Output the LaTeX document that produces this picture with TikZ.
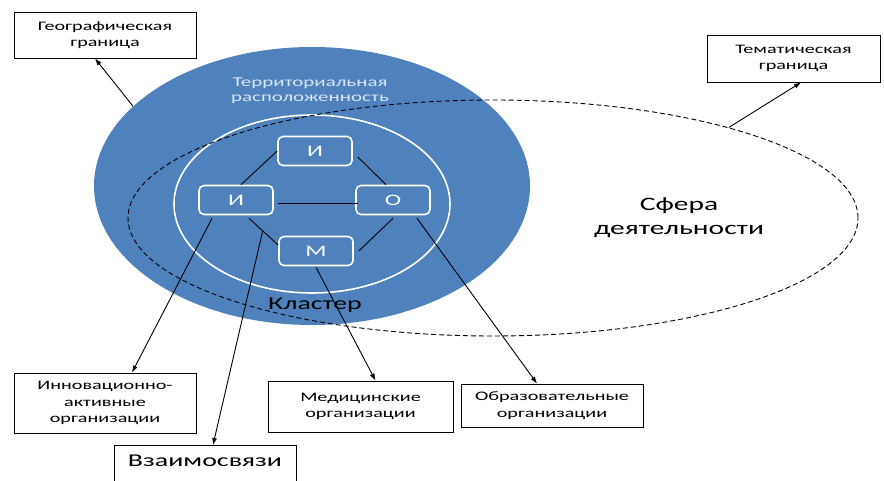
\documentclass[tikz,border=0pt]{standalone}
\usepackage{fontspec}
\setmainfont{Carlito}[FakeStretch=1.55]
\usetikzlibrary{arrows.meta,calc,shapes.geometric}
\definecolor{clblue}{HTML}{4F81BD}
\definecolor{terrtext}{HTML}{DCE6F2}
\begin{document}
\begin{tikzpicture}[x=1pt,y=-1pt,
  lbl/.style={draw=black, line width=0.9pt, fill=white, align=center, inner sep=0pt,
    font=\fontsize{13}{16.5}\selectfont},
  inbox/.style={draw=white, line width=1.6pt, rounded corners=5pt, fill=clblue, text=white,
    minimum width=74pt, minimum height=29pt, font=\fontsize{16}{18}\selectfont},
  conn/.style={line width=0.9pt, black},
  arr/.style={conn, -{Latex[length=7pt,width=5pt]}},
]
\useasboundingbox (0,0) rectangle (884,481);
% ellipses
\node[ellipse, fill=clblue, minimum width=436pt, minimum height=278pt, inner sep=0pt] (terrell) at (312,186) {};
\node[ellipse, draw=white, line width=1.6pt, minimum width=276pt, minimum height=178pt, inner sep=0pt] (clust) at (312,204) {};
\node[ellipse, draw=black, dash pattern=on 5pt off 3pt, line width=0.9pt, minimum width=730pt, minimum height=236pt, inner sep=0pt] (sphere) at (493,218) {};
% texts
\node[text=terrtext, align=center, font=\fontsize{13.5}{15}\selectfont] (terrtxt) at (310,91) {Территориальная\\расположенность};
\node[font=\fontsize{18}{20}\selectfont] (klaster) at (315,305) {Кластер};
\node[align=center, font=\fontsize{19}{24}\selectfont] (sfera) at (679,218) {Сфера\\деятельности};
% inner boxes
\node[inbox] (i1) at (315,151) {И};
\node[inbox] (i2) at (236,200) {И};
\node[inbox] (o) at (393,200) {О};
\node[inbox] (m) at (316,251) {М};
% inner connectors
\draw[conn] ($(i2.north)+(5,0)$) -- (i1.west);
\draw[conn] ($(i1.east)+(5,6)$) -- ($(o.north)+(-7,0)$);
\draw[conn] ($(i2.east)+(4,3)$) -- ($(o.west)+(3,3)$);
\draw[conn] ($(o.south)+(0,3)$) -- ($(m.east)+(5,0)$);
\coordinate (im1) at ($(i2.south)+(13,3)$);
\coordinate (im2) at ($(m.west)+(0,-6)$);
\draw[conn] (im1) -- (im2);
\coordinate (vz) at ($(im1)!0.47!(im2)$);
% outer boxes
\node[lbl, minimum width=182pt, minimum height=46pt] (geo) at (105,35) {Географическая\\граница};
\node[lbl, minimum width=173pt, minimum height=47pt] (them) at (793.5,58.5) {Тематическая\\граница};
\node[lbl, minimum width=182pt, minimum height=60pt] (inno) at (105,403) {Инновационно-\\активные\\организации};
\node[lbl, minimum width=185pt, minimum height=51pt] (med) at (360.5,406.5) {Медицинские\\организации};
\node[lbl, minimum width=182pt, minimum height=43pt] (edu) at (552,405.5) {Образовательные\\организации};
\node[lbl, anchor=north, minimum width=182pt, text height=21pt, text depth=30pt, font=\fontsize{18}{22}\selectfont] (vzaim) at (205,445) {Взаимосвязи};
% arrows
\coordinate (geoP) at (terrell.156);
\coordinate (themP) at (sphere.21);
\draw[arr] (geoP) -- ($(geo.south)+(-10,0)$);
\draw[arr] (themP) -- ($(them.south)+(7.5,0)$);
\draw[arr] ($(i2.south)+(-24,3)$) -- ($(inno.north)+(27,0)$);
\draw[arr] (vz) -- ($(vzaim.north)+(8,0)$);
\draw[arr] ($(m.south)+(0,1)$) -- ($(med.north)+(15,0)$);
\draw[arr] ($(o.south)+(24,3)$) -- ($(edu.north)+(-15,0)$);
\end{tikzpicture}
\end{document}
